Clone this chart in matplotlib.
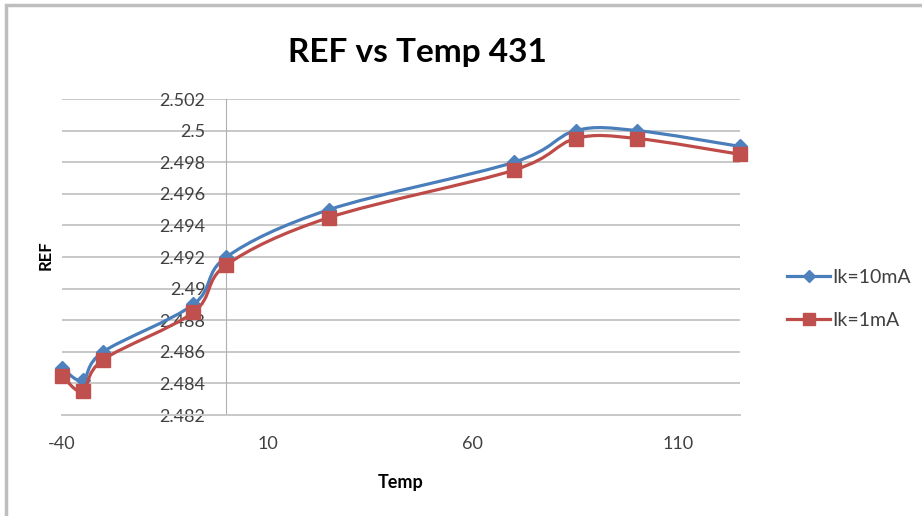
import matplotlib
matplotlib.use('Agg')
import matplotlib.pyplot as plt
import numpy as np
from matplotlib.path import Path
from matplotlib.patches import PathPatch, Rectangle
from matplotlib.lines import Line2D

plt.rcParams['font.family'] = ['Lato', 'DejaVu Sans']
plt.rcParams['axes.unicode_minus'] = False

# data
temp = [-40, -35, -30, -8, 0, 25, 70, 85, 100, 125]
ref_10ma = [2.485, 2.4842, 2.486, 2.489, 2.492, 2.495, 2.498, 2.500, 2.500, 2.499]
ref_1ma = [2.4845, 2.4835, 2.4855, 2.4885, 2.4915, 2.4945, 2.4975, 2.4995, 2.4995, 2.4985]
labels = ['Ik=10mA', 'Ik=1mA']
x_ticks = [-40, 10, 60, 110]
y_ticks = np.arange(2.482, 2.5021, 0.002)


def smooth_path(xs, ys):
    """Catmull-Rom kurve als Bezier, so wie Excel 'geglaettete Linie'"""
    pts = np.column_stack([xs, ys]).astype(float)
    verts = [pts[0]]
    codes = [Path.MOVETO]
    n = len(pts)
    for i in range(n - 1):
        p0 = pts[i - 1] if i > 0 else pts[i]
        p1 = pts[i]
        p2 = pts[i + 1]
        p3 = pts[i + 2] if i + 2 < n else pts[i + 1]
        c1 = p1 + (p2 - p0) / 6.0
        c2 = p2 - (p3 - p1) / 6.0
        verts += [c1, c2, p2]
        codes += [Path.CURVE4] * 3
    return Path(verts, codes)


fig = plt.figure(figsize=(9.22, 5.16), dpi=100)
ax = fig.add_axes([0.0672, 0.1957, 0.7354, 0.6124])

blue_line = '#4A7EBB'
blue_mark = '#4F81BD'
red_line = '#BE4B48'
red_mark = '#C0504D'

ax.add_patch(PathPatch(smooth_path(temp, ref_10ma), fill=False, edgecolor=blue_line,
                       lw=2.3, zorder=3, capstyle='round', clip_on=False))
ax.plot(temp, ref_10ma, linestyle='none', marker='D', ms=7, color=blue_mark, zorder=4,
        clip_on=False)
ax.add_patch(PathPatch(smooth_path(temp, ref_1ma), fill=False, edgecolor=red_line,
                       lw=2.3, zorder=5, capstyle='round', clip_on=False))
ax.plot(temp, ref_1ma, linestyle='none', marker='s', ms=10, color=red_mark, zorder=6,
        clip_on=False)

ax.set_xlim(-40, 125)
ax.set_ylim(2.482, 2.502)
ax.set_xticks(x_ticks)
ax.set_yticks(y_ticks)
ax.set_yticklabels([f'{v:.3f}'.rstrip('0').rstrip('.') for v in y_ticks])
ax.yaxis.grid(True, color='#C8C8C8', lw=1.4)
ax.set_axisbelow(True)
for s in ['top', 'right']:
    ax.spines[s].set_visible(False)
ax.spines['left'].set_position(('data', 0))
ax.spines['left'].set_color('#B0B0B0')
ax.spines['bottom'].set_color('#C8C8C8')
ax.spines['bottom'].set_linewidth(1.4)
ax.tick_params(axis='y', length=0, pad=15, labelsize=13, labelcolor='#404040')
ax.tick_params(axis='x', length=0, pad=15, labelsize=13, labelcolor='#404040')

ax.set_xlabel('Temp', fontsize=13, fontweight='bold', labelpad=16)
fig.text(0.050, 0.505, 'REF', rotation=90, fontsize=12, fontweight='bold',
         ha='center', va='center')
fig.text(0.453, 0.899, 'REF vs Temp 431', fontsize=24, fontweight='bold',
         ha='center', va='center')

handles = [Line2D([], [], color=blue_line, lw=2.3, marker='D', ms=6, markerfacecolor=blue_mark,
                  markeredgecolor=blue_mark),
           Line2D([], [], color=red_line, lw=2.3, marker='s', ms=9, markerfacecolor=red_mark,
                  markeredgecolor=red_mark)]
fig.legend(handles, labels, loc='center left', bbox_to_anchor=(0.835, 0.421), frameon=False,
           fontsize=14, handlelength=2.2, handletextpad=0.1, labelspacing=1.35,
           labelcolor='#404040')

# rahmen des diagrammbereichs
fig.patches.append(Rectangle((0.006, -0.1), 1.2, 1.09, transform=fig.transFigure,
                             fill=False, edgecolor='#BEBEBE', lw=2.5))

fig.savefig('out.png', dpi=100)
